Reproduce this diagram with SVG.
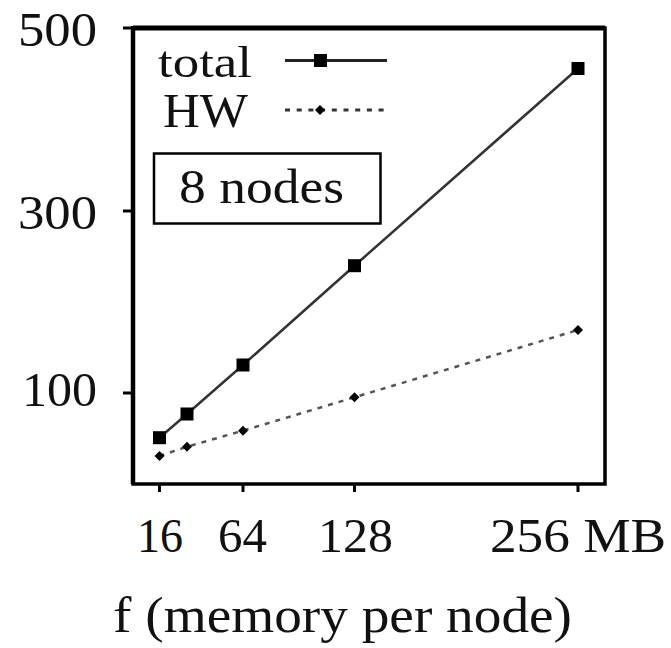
<svg xmlns="http://www.w3.org/2000/svg" xmlns:xlink="http://www.w3.org/1999/xlink" width="671" height="648" viewBox="0 0 671 648">
  <style>
    .t { font-family: "Liberation Serif", "Times New Roman", serif; fill: #111; }
    .axis { fill: none; stroke: #000; stroke-width: 3.5; }
    .tick { stroke: #000; stroke-width: 3; }
    .total { fill: none; stroke: #333; stroke-width: 2.5; }
    .hw { fill: none; stroke: #555; stroke-width: 2.5; stroke-dasharray: 5 6; }
  </style>
  <defs>
    <rect id="sq" x="-6.5" y="-6.5" width="13" height="13" fill="#000"/>
    <path id="dm" d="M0,-5 L5,0 L0,5 L-5,0 Z" fill="#000"/>
  </defs>
  <rect width="671" height="648" fill="#fff"/>

  <g id="axes">
    <rect class="axis" x="133" y="28" width="472" height="456"/>
    <line x1="133" y1="28" x2="605" y2="28" stroke="#000" stroke-width="5"/>
    <line x1="133" y1="26" x2="133" y2="484" stroke="#000" stroke-width="4.5"/>
  </g>

  <g id="ticks">
    <line class="tick" x1="123" y1="28" x2="133" y2="28"/>
    <line class="tick" x1="123" y1="211" x2="133" y2="211"/>
    <line class="tick" x1="123" y1="393" x2="133" y2="393"/>
    <line class="tick" x1="159.5" y1="484" x2="159.5" y2="492"/>
    <line class="tick" x1="243" y1="484" x2="243" y2="492"/>
    <line class="tick" x1="354.5" y1="484" x2="354.5" y2="492"/>
    <line class="tick" x1="578" y1="484" x2="578" y2="492"/>
  </g>

  <g id="y-labels" class="t" font-size="48">
    <text x="18" y="46" textLength="79" lengthAdjust="spacingAndGlyphs">500</text>
    <text x="18" y="229" textLength="79" lengthAdjust="spacingAndGlyphs">300</text>
    <text x="22" y="406" textLength="75" lengthAdjust="spacingAndGlyphs">100</text>
  </g>

  <g id="x-labels" class="t" font-size="48">
    <text x="137" y="552" textLength="46" lengthAdjust="spacingAndGlyphs">16</text>
    <text x="218" y="552" textLength="49" lengthAdjust="spacingAndGlyphs">64</text>
    <text x="318" y="552" textLength="75" lengthAdjust="spacingAndGlyphs">128</text>
    <text x="490" y="552" textLength="176" lengthAdjust="spacingAndGlyphs">256 MB</text>
  </g>

  <g id="x-title" class="t" font-size="50">
    <text x="113" y="632" textLength="459" lengthAdjust="spacingAndGlyphs">f (memory per node)</text>
  </g>

  <g id="connectors">
    <polyline id="line-total" class="total" points="159.5,437.7 187,414 243,365 354.5,265.7 578,68.5"/>
    <polyline id="line-hw" class="hw" points="159.5,456 187,446.7 243,430.7 354.5,397.3 578,330"/>
  </g>

  <g id="series-total">
    <use xlink:href="#sq" href="#sq" x="159.5" y="437.7"/>
    <use xlink:href="#sq" href="#sq" x="187" y="414"/>
    <use xlink:href="#sq" href="#sq" x="243" y="365"/>
    <use xlink:href="#sq" href="#sq" x="354.5" y="265.7"/>
    <use xlink:href="#sq" href="#sq" x="578" y="68.5"/>
  </g>

  <g id="series-hw">
    <use xlink:href="#dm" href="#dm" x="159.5" y="456"/>
    <use xlink:href="#dm" href="#dm" x="187" y="446.7"/>
    <use xlink:href="#dm" href="#dm" x="243" y="430.7"/>
    <use xlink:href="#dm" href="#dm" x="354.5" y="397.3"/>
    <use xlink:href="#dm" href="#dm" x="578" y="330"/>
  </g>

  <g id="legend">
    <g id="legend-total">
      <text class="t" x="158" y="77" font-size="45" textLength="94" lengthAdjust="spacingAndGlyphs">total</text>
      <line x1="285" y1="60.5" x2="387" y2="60.5" stroke="#222" stroke-width="3"/>
      <use xlink:href="#sq" href="#sq" x="320.5" y="60.5"/>
    </g>
    <g id="legend-hw">
      <text class="t" x="163" y="127" font-size="48" textLength="85" lengthAdjust="spacingAndGlyphs">HW</text>
      <line x1="285" y1="110" x2="387" y2="110" stroke="#333" stroke-width="3" stroke-dasharray="5 6.7"/>
      <use xlink:href="#dm" href="#dm" x="320" y="110"/>
    </g>
  </g>

  <g id="note-8-nodes">
    <rect x="154" y="153.5" width="226.5" height="70" fill="none" stroke="#000" stroke-width="2.5"/>
    <text class="t" x="179" y="203" font-size="49" textLength="165" lengthAdjust="spacingAndGlyphs">8 nodes</text>
  </g>
</svg>
